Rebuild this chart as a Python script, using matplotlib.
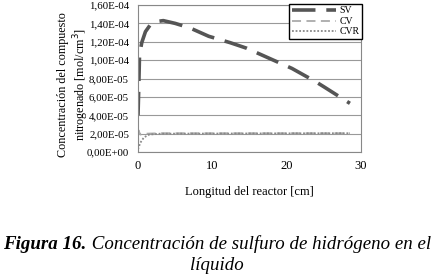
import numpy as np
import matplotlib
matplotlib.use("Agg")
import matplotlib.pyplot as plt
from matplotlib.ticker import FuncFormatter

# datos (concentracion en mol/cm3, longitud en cm)
x_sv = [0.0, 0.1, 0.2, 0.5, 1.0, 1.7, 2.5, 3.4, 5.0, 7.0, 9.5, 12.4, 14.6, 17.1, 20.7, 23.8, 25.0, 28.5]
y_sv = [0.40e-4, 0.70e-4, 1.05e-4, 1.19e-4, 1.31e-4, 1.39e-4, 1.42e-4, 1.43e-4, 1.40e-4, 1.35e-4,
        1.26e-4, 1.19e-4, 1.13e-4, 1.04e-4, 0.91e-4, 0.77e-4, 0.71e-4, 0.53e-4]

x_cv = [0.0, 0.05, 0.3, 1.0, 3.0, 28.5]
y_cv = [0.5e-5, 2.4e-5, 1.9e-5, 2.0e-5, 2.05e-5, 2.05e-5]

x_cvr = [0.0, 0.3, 0.8, 1.5, 3.0, 28.5]
y_cvr = [0.3e-5, 1.0e-5, 1.6e-5, 1.9e-5, 2.0e-5, 2.05e-5]

x_ticks = [0, 10, 20, 30]
y_ticks = [0, 2e-5, 4e-5, 6e-5, 8e-5, 10e-5, 12e-5, 14e-5, 16e-5]

plt.rcParams['font.family'] = ['Liberation Serif', 'DejaVu Serif']

fig = plt.figure(figsize=(4.34, 2.78), dpi=100)
ax = fig.add_axes([0.318, 0.453, 0.514, 0.529])

ax.plot(x_sv, y_sv, color="#555555", lw=2.6, dashes=(6.5, 3), label="SV")
ax.plot(x_cv, y_cv, color="#aaaaaa", lw=1.3, dashes=(5, 3), label="CV")
ax.plot(x_cvr, y_cvr, color="#888888", lw=1.3, linestyle=(0, (1, 1)), label="CVR")

ax.set_xlim(0, 30)
ax.set_ylim(0, 1.6e-4)
ax.set_xticks(x_ticks)
ax.set_yticks(y_ticks)


def fmt(v, pos):
    s = "%.2E" % v
    return s.replace(".", ",")


ax.yaxis.set_major_formatter(FuncFormatter(fmt))
ax.tick_params(axis="y", length=0, labelsize=7.8, pad=6.5)
ax.tick_params(axis="x", length=0, labelsize=9, pad=6)
ax.grid(axis="y", color="#999999", lw=0.8)
ax.set_axisbelow(True)
for sp in ax.spines.values():
    sp.set_color("#888888")
    sp.set_linewidth(0.8)

ax.set_xlabel("Longitud del reactor [cm]", fontsize=9, labelpad=10)
ax.set_ylabel("Concentración del compuesto\nnitrogenado [mol/cm$^3$]", fontsize=8.7,
              linespacing=1.2)
ax.yaxis.set_label_coords(-0.21, 0.46)

leg = ax.legend(loc="upper right", bbox_to_anchor=(1.005, 1.01), borderaxespad=0,
                fontsize=7, handlelength=4.6, handletextpad=0.3, labelspacing=0.15,
                borderpad=0.3, fancybox=False, framealpha=1)
leg.get_frame().set_edgecolor("black")
leg.get_frame().set_linewidth(1.0)

# pie de figura: "Figura 16." en negrita cursiva, el resto en cursiva
r = fig.canvas.get_renderer()
W = fig.bbox.width
cap_size = 13.6
t1 = fig.text(0, 0, "Figura 16.", fontsize=cap_size, fontweight="bold", style="italic")
t2 = fig.text(0, 0, " Concentración de sulfuro de hidrógeno en el", fontsize=cap_size, style="italic")
w1 = t1.get_window_extent(r).width
w2 = t2.get_window_extent(r).width
x0 = (W - w1 - w2) / 2
y1 = 1 - 249 / 278
t1.set_position((x0 / W, y1))
t2.set_position(((x0 + w1) / W, y1))
fig.text(0.5, 1 - 270 / 278, "líquido", fontsize=cap_size, style="italic", ha="center")

fig.savefig("out.png", dpi=100)
